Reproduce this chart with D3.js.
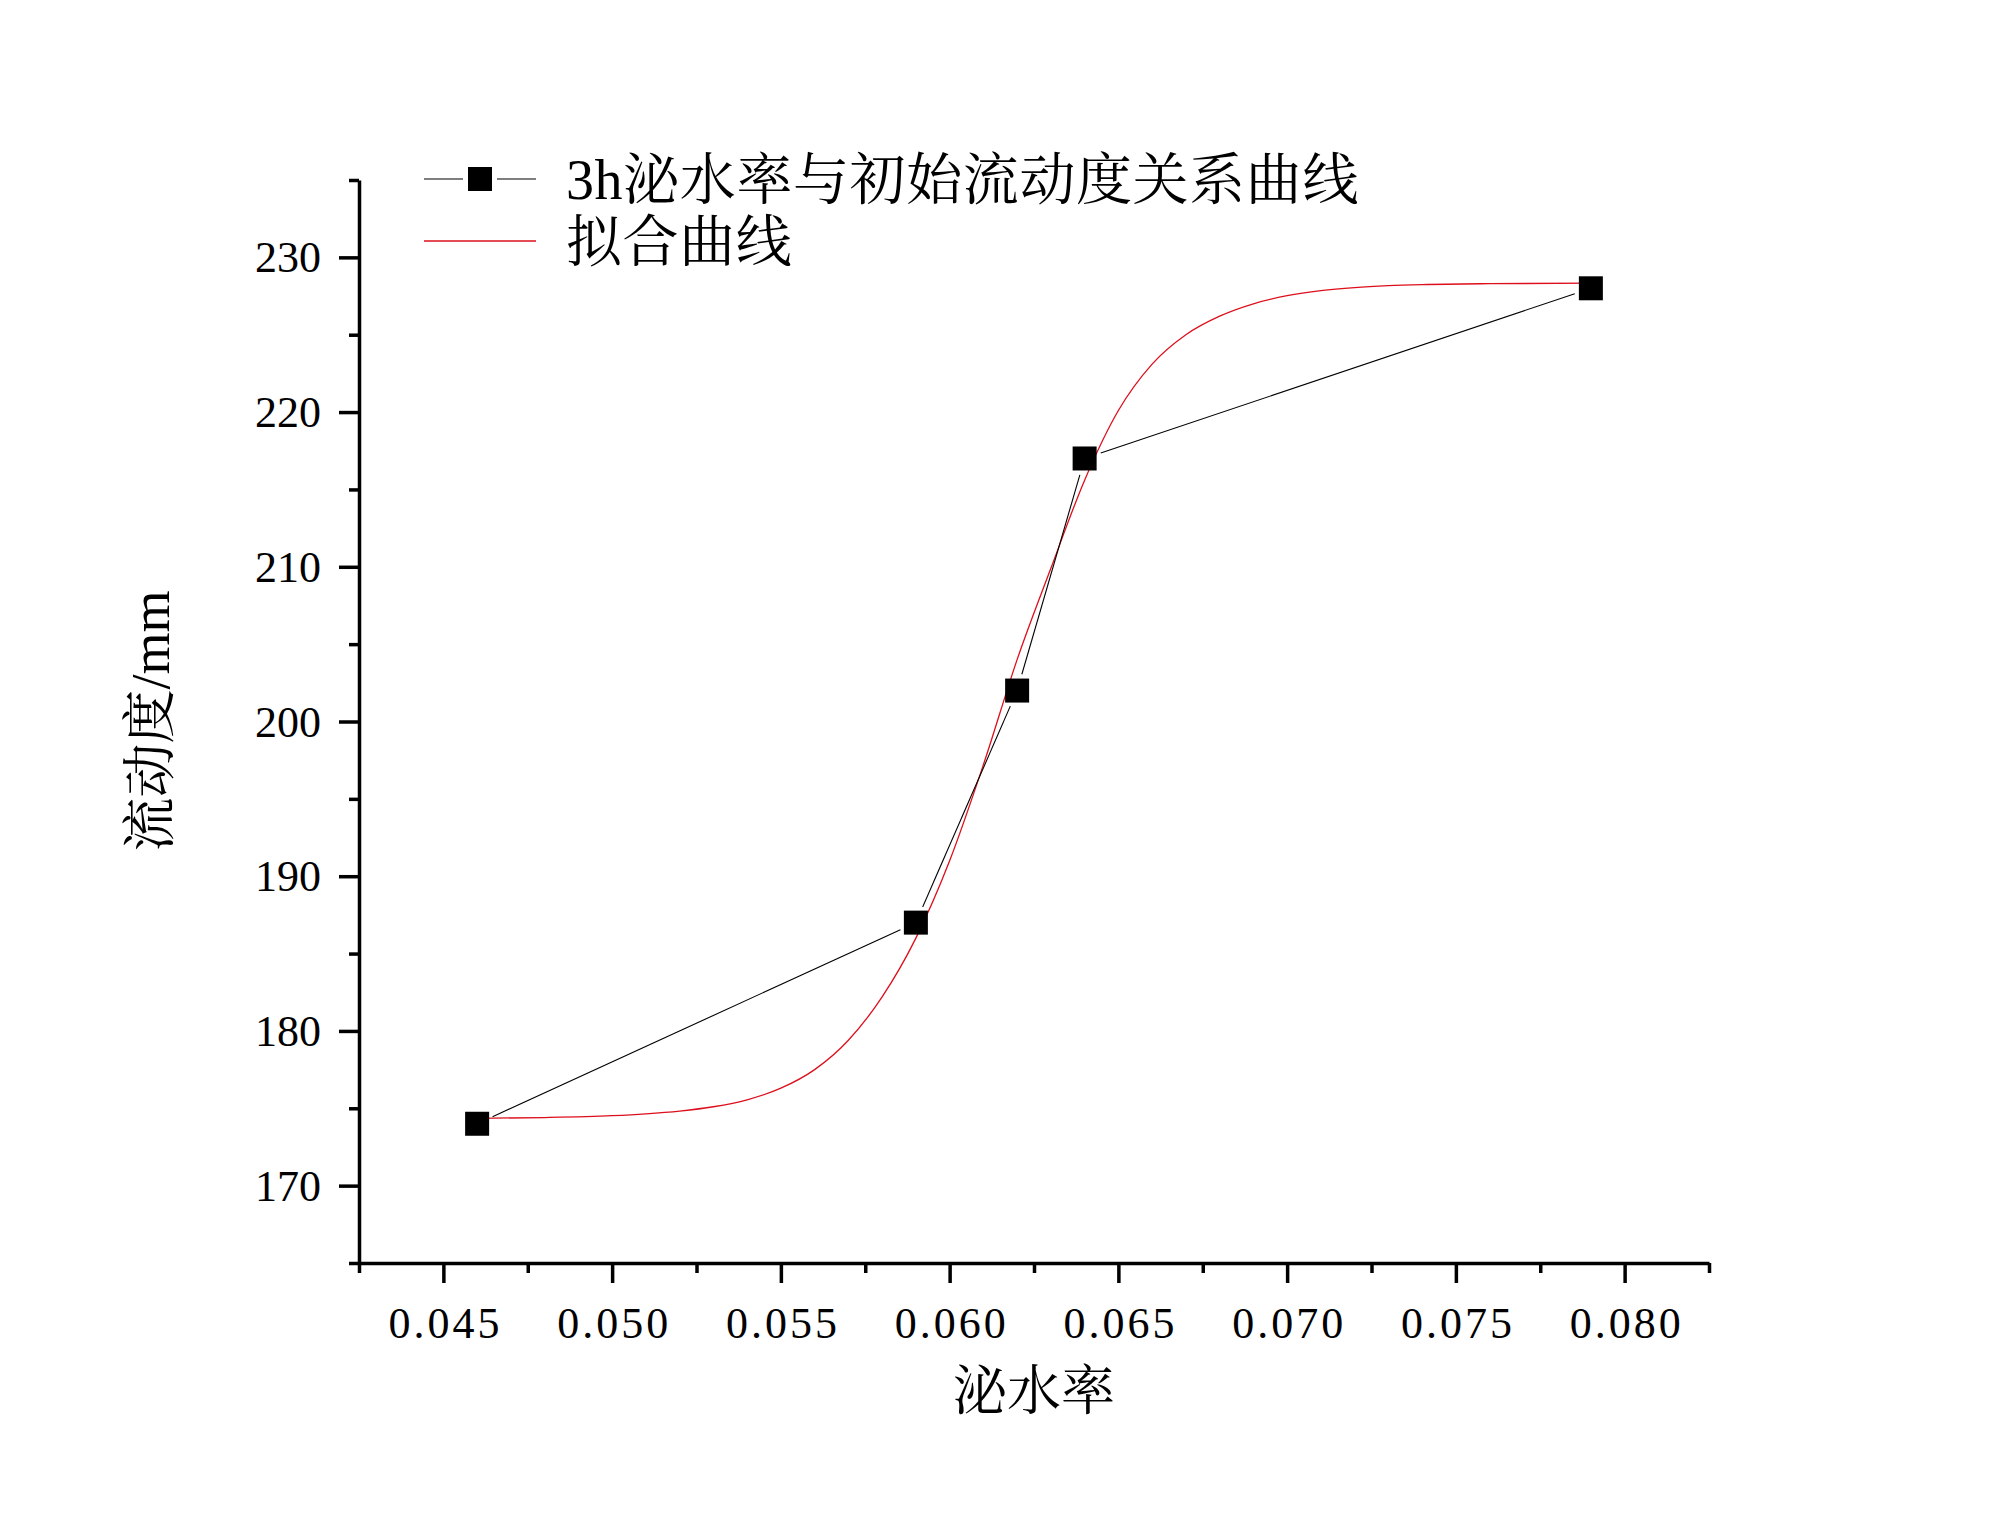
<!DOCTYPE html>
<html>
<head>
<meta charset="utf-8">
<script src="https://cdn.jsdelivr.net/npm/d3@7"></script>
<style>
  body { margin: 0; background: #fff; }
  text { font-family: "Liberation Serif", "Noto Serif CJK SC", "Noto Sans CJK SC", serif; fill: #000; }
  .axis path, .axis line { stroke: #000; stroke-width: 3.5; }
</style>
</head>
<body>
<svg id="chart" width="2000" height="1527"></svg>
<script>
// measured points: 3h bleeding rate vs initial fluidity
var bleedRate = [0.046, 0.059, 0.062, 0.064, 0.079];
var fluidity  = [174, 187, 202, 217, 228];

// fitted curve
var fitX = [0.046, 0.048, 0.050, 0.051, 0.052, 0.053, 0.054, 0.055, 0.056, 0.057,
            0.058, 0.059, 0.060, 0.061, 0.062, 0.063, 0.064, 0.065, 0.066, 0.067,
            0.068, 0.069, 0.070, 0.071, 0.072, 0.073, 0.074, 0.076, 0.079];
var fitY = [174.35, 174.40, 174.52, 174.64, 174.82, 175.10, 175.55, 176.30, 177.50, 179.40,
            182.20, 186.00, 191.00, 197.20, 204.00, 209.90, 215.60, 220.10, 223.10, 225.00,
            226.20, 227.00, 227.52, 227.85, 228.05, 228.17, 228.24, 228.30, 228.33];

var xMajor = [0.045, 0.050, 0.055, 0.060, 0.065, 0.070, 0.075, 0.080];
var xMinor = [0.0425, 0.0475, 0.0525, 0.0575, 0.0625, 0.0675, 0.0725, 0.0775, 0.0825];
var yMajor = [170, 180, 190, 200, 210, 220, 230];
var yMinor = [165, 175, 185, 195, 205, 215, 225, 235];

var legendNames = ["3h泌水率与初始流动度关系曲线", "拟合曲线"];

var svg = d3.select("#chart");
var plotL = 359, plotR = 1709, plotT = 180, plotB = 1263;

var x = d3.scaleLinear().domain([0.0425, 0.0825]).range([plotL, plotR]);
var y = d3.scaleLinear().domain([165, 235]).range([plotB, plotT]);

// axes: minor ticks first, then major with labels
svg.append("g").attr("class", "axis")
  .attr("transform", "translate(0," + plotB + ")")
  .call(d3.axisBottom(x).tickValues(xMinor).tickSize(10).tickSizeOuter(0).tickFormat(""));
var gx = svg.append("g").attr("class", "axis")
  .attr("transform", "translate(0," + plotB + ")")
  .call(d3.axisBottom(x).tickValues(xMajor).tickSize(20).tickSizeOuter(0).tickFormat(d3.format(".3f")));
gx.select(".domain").remove();
gx.selectAll("text")
  .attr("y", 60).attr("dy", null)
  .attr("dominant-baseline", "central")
  .attr("dx", "1.5px")
  .style("letter-spacing", "3px")
  .style("font-size", "44px");

svg.append("g").attr("class", "axis")
  .attr("transform", "translate(" + plotL + ",0)")
  .call(d3.axisLeft(y).tickValues(yMinor).tickSize(10).tickSizeOuter(0).tickFormat(""));
var gy = svg.append("g").attr("class", "axis")
  .attr("transform", "translate(" + plotL + ",0)")
  .call(d3.axisLeft(y).tickValues(yMajor).tickSize(20).tickSizeOuter(0));
gy.select(".domain").remove();
gy.selectAll("text")
  .attr("x", -38).attr("dy", null)
  .attr("dominant-baseline", "central")
  .style("font-size", "44px");

svg.selectAll(".axis .tick text").attr("fill", "#000");

// axis titles
svg.append("text")
  .attr("x", 1034).attr("y", 1392)
  .attr("text-anchor", "middle").attr("dominant-baseline", "central")
  .style("font-size", "54px")
  .text("泌水率");
svg.append("text")
  .attr("transform", "translate(151,721) rotate(-90)")
  .attr("text-anchor", "middle").attr("dominant-baseline", "central")
  .style("font-size", "54px")
  .text("流动度/mm");

// fitted curve
var fit = fitX.map(function(d, i) { return [d, fitY[i]]; });
svg.append("path")
  .datum(fit)
  .attr("fill", "none")
  .attr("stroke", "#dd0f1c")
  .attr("stroke-width", 1.3)
  .attr("d", d3.line().x(function(d) { return x(d[0]); }).y(function(d) { return y(d[1]); }).curve(d3.curveMonotoneX));

// black connecting line, with a gap round each symbol like Origin does
var pts = bleedRate.map(function(d, i) { return [x(d), y(fluidity[i])]; });
var gap = 17;
for (var i = 0; i < pts.length - 1; i++) {
  var a = pts[i], b = pts[i + 1];
  var dx = b[0] - a[0], dy = b[1] - a[1];
  var len = Math.sqrt(dx * dx + dy * dy);
  var ux = dx / len, uy = dy / len;
  svg.append("line")
    .attr("x1", a[0] + ux * gap).attr("y1", a[1] + uy * gap)
    .attr("x2", b[0] - ux * gap).attr("y2", b[1] - uy * gap)
    .attr("stroke", "#000").attr("stroke-width", 1.1);
}

var sq = 24;
svg.selectAll(".pt")
  .data(pts)
  .enter().append("rect")
  .attr("class", "pt")
  .attr("x", function(d) { return d[0] - sq / 2; })
  .attr("y", function(d) { return d[1] - sq / 2; })
  .attr("width", sq).attr("height", sq)
  .attr("fill", "#000");

// legend
var lg = svg.append("g");
lg.append("line").attr("x1", 424).attr("x2", 463).attr("y1", 179).attr("y2", 179)
  .attr("stroke", "#000").attr("stroke-width", 1.1);
lg.append("line").attr("x1", 497).attr("x2", 536).attr("y1", 179).attr("y2", 179)
  .attr("stroke", "#000").attr("stroke-width", 1.1);
lg.append("rect").attr("x", 480 - sq / 2).attr("y", 179 - sq / 2)
  .attr("width", sq).attr("height", sq).attr("fill", "#000");
lg.append("line").attr("x1", 424).attr("x2", 536).attr("y1", 241).attr("y2", 241)
  .attr("stroke", "#dd0f1c").attr("stroke-width", 1.3);
lg.selectAll("text")
  .data(legendNames)
  .enter().append("text")
  .attr("x", 566)
  .attr("y", function(d, i) { return 180 + i * 62; })
  .attr("dominant-baseline", "central")
  .style("font-size", "56px")
  .style("letter-spacing", "0.6px")
  .text(function(d) { return d; });
</script>
</body>
</html>
